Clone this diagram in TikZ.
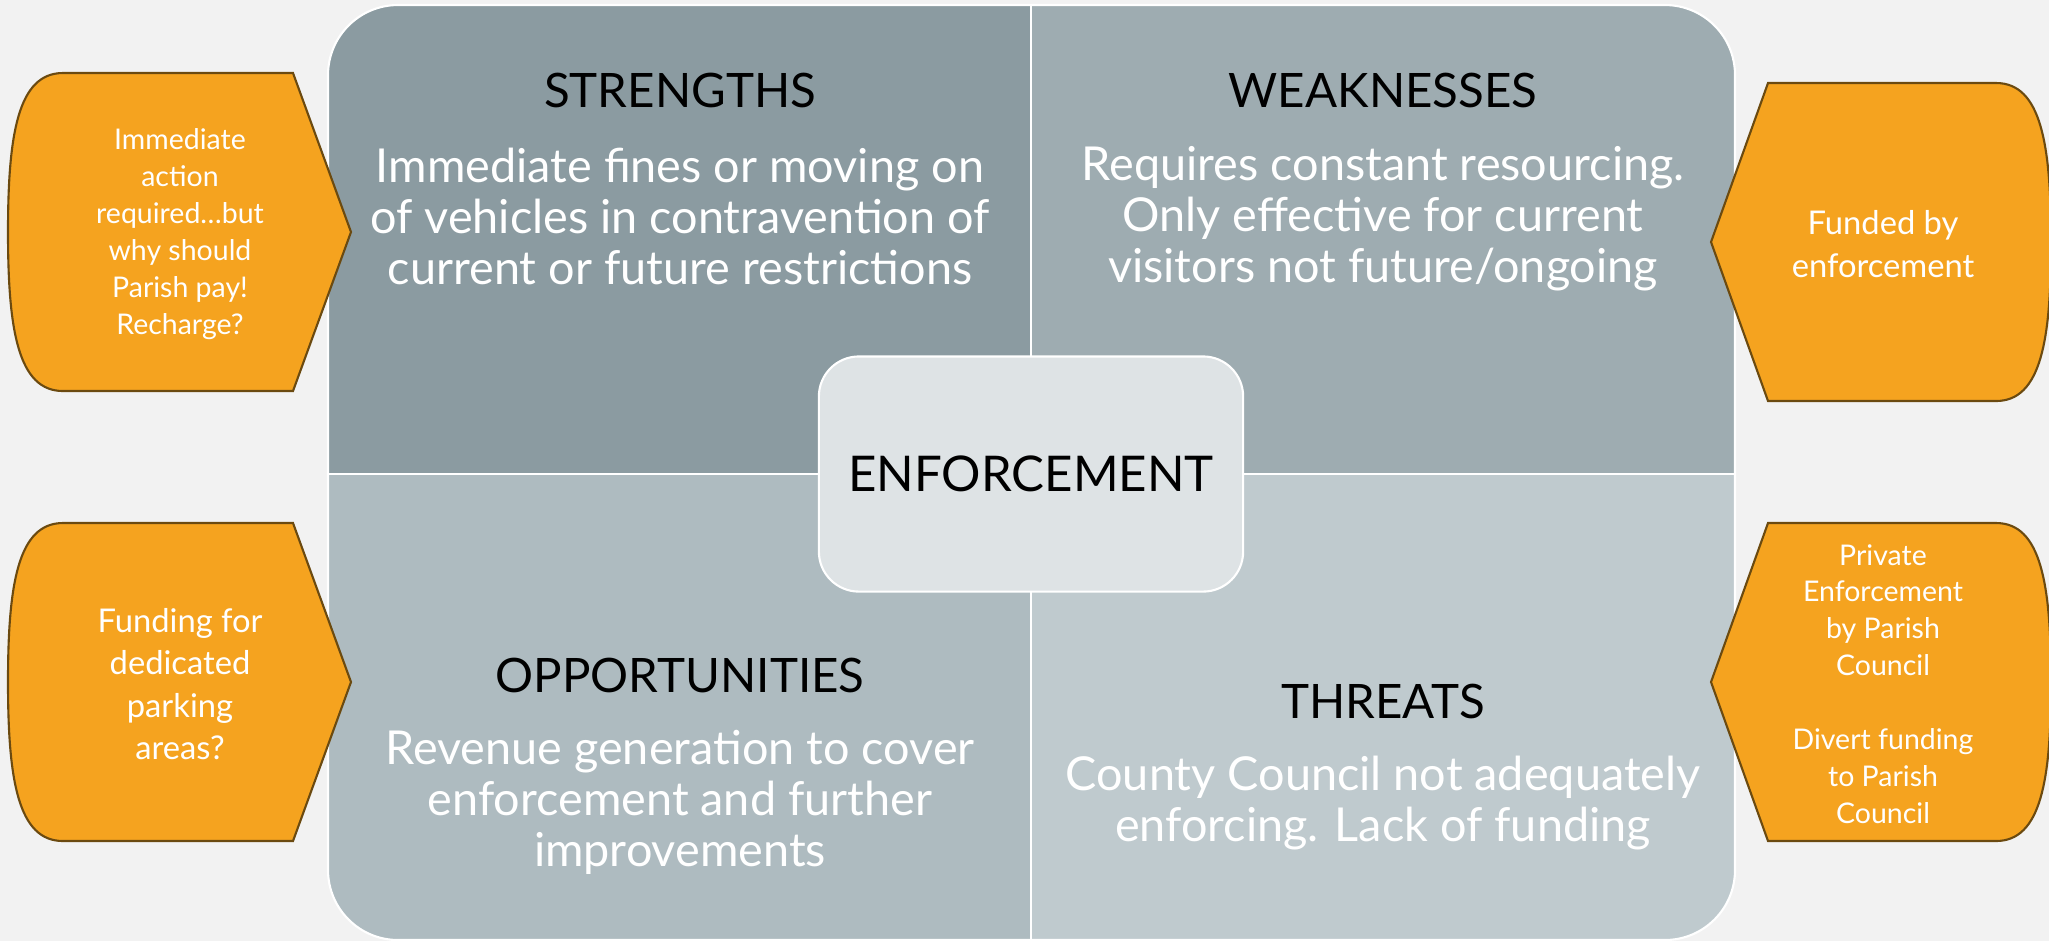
\documentclass[tikz,border=0pt]{standalone}
\usepackage{fontspec}
\setmainfont{Lato}
\definecolor{bgGrey}{HTML}{F2F2F2}
\definecolor{qStrength}{HTML}{8B9BA1}
\definecolor{qWeak}{HTML}{9EACB1}
\definecolor{qOpp}{HTML}{AEBBC0}
\definecolor{qThreat}{HTML}{BFCACE}
\definecolor{centreFill}{HTML}{DEE3E5}
\definecolor{tagOrange}{HTML}{F5A31F}
\definecolor{tagEdge}{HTML}{6B4A10}

\begin{document}
\begin{tikzpicture}[x=0.01cm, y=-0.01cm,
    heading/.style={anchor=base, text=black, font=\fontsize{13.5}{16}\selectfont},
    body/.style={align=center, text=white, font=\fontsize{13.3}{14.5}\selectfont},
    tag/.style={fill=tagOrange, draw=tagEdge, line width=0.6pt},
    tagtext/.style={align=center, text=white, font=\fontsize{8.1}{10.5}\selectfont},
    bigtagtext/.style={align=center, text=white, font=\fontsize{9.3}{12}\selectfont},
    divider/.style={white, line width=0.7pt}]
    % Background
    \fill[bgGrey] (0,0) rectangle (2049,941);
    \useasboundingbox (0,0) rectangle (2049,941);

    % SWOT quadrants
    \begin{scope}
        \clip[rounded corners=0.7cm] (328,5) rectangle (1735,940);
        \fill[qStrength] (328,5) rectangle (1031,474);
        \fill[qWeak] (1031,5) rectangle (1735,474);
        \fill[qOpp] (328,474) rectangle (1031,940);
        \fill[qThreat] (1031,474) rectangle (1735,940);
    \end{scope}
    \draw[divider] (1031,5) -- (1031,940);
    \draw[divider] (328,474) -- (1735,474);
    \draw[white, line width=0.6pt, rounded corners=0.7cm] (328,5) rectangle (1735,940);

    % Headings
    \node[heading] (strengths) at (680,107) {STRENGTHS};
    \node[heading] (weaknesses) at (1383,107) {WEAKNESSES};
    \node[heading] (opportunities) at (680,692) {OPPORTUNITIES};
    \node[heading] (threats) at (1383,718) {THREATS};

    % Quadrant texts
    \node[body] (strengthsText) at (680,216) {Immediate fines or moving on\\of vehicles in contravention of\\current or future restrictions};
    \node[body] (weaknessesText) at (1383,219) {Requires constant resourcing.\\Only effective for current\\visitors not future/ongoing};
    \node[body] (opportunitiesText) at (680,802) {Revenue generation to cover\\enforcement and further\\improvements};
    \node[body] (threatsText) at (1383,803) {County Council not adequately\\enforcing. Lack of funding};

    % Centre box
    \node[draw=white, fill=centreFill, line width=0.6pt, rounded corners=0.4cm,
        minimum width=4.24cm, minimum height=2.35cm,
        font=\fontsize{14}{16}\selectfont] (centre) at (1031,474) {ENFORCEMENT};

    % Side notes, left
    \draw[tag] (63,73) -- (293,73) -- (351,232) -- (293,391) -- (63,391)
        .. controls (18,391) and (8,330) .. (8,232)
        .. controls (8,134) and (18,73) .. (63,73) -- cycle;
    \draw[tag] (63,523) -- (293,523) -- (351,682) -- (293,841) -- (63,841)
        .. controls (18,841) and (8,780) .. (8,682)
        .. controls (8,584) and (18,523) .. (63,523) -- cycle;

    % Side notes, right
    \draw[tag] (1996,83) -- (1768,83) -- (1711,242) -- (1768,401) -- (1996,401)
        .. controls (2041,401) and (2051,340) .. (2051,242)
        .. controls (2051,144) and (2041,83) .. (1996,83) -- cycle;
    \draw[tag] (1996,523) -- (1768,523) -- (1711,682) -- (1768,841) -- (1996,841)
        .. controls (2041,841) and (2051,780) .. (2051,682)
        .. controls (2051,584) and (2041,523) .. (1996,523) -- cycle;

    % Side note texts
    \node[tagtext] (noteStrength) at (180,234) {Immediate\\action\\required…but\\why should\\Parish pay!\\Recharge?};
    \node[bigtagtext] (noteWeak) at (1883,244) {Funded by\\enforcement};
    \node[bigtagtext] (noteOpp) at (180,684) {Funding for\\dedicated\\parking\\areas?};
    \node[tagtext] (noteThreat) at (1883,684) {Private\\Enforcement\\by Parish\\Council\\[10.5pt]Divert funding\\to Parish\\Council};
\end{tikzpicture}
\end{document}
